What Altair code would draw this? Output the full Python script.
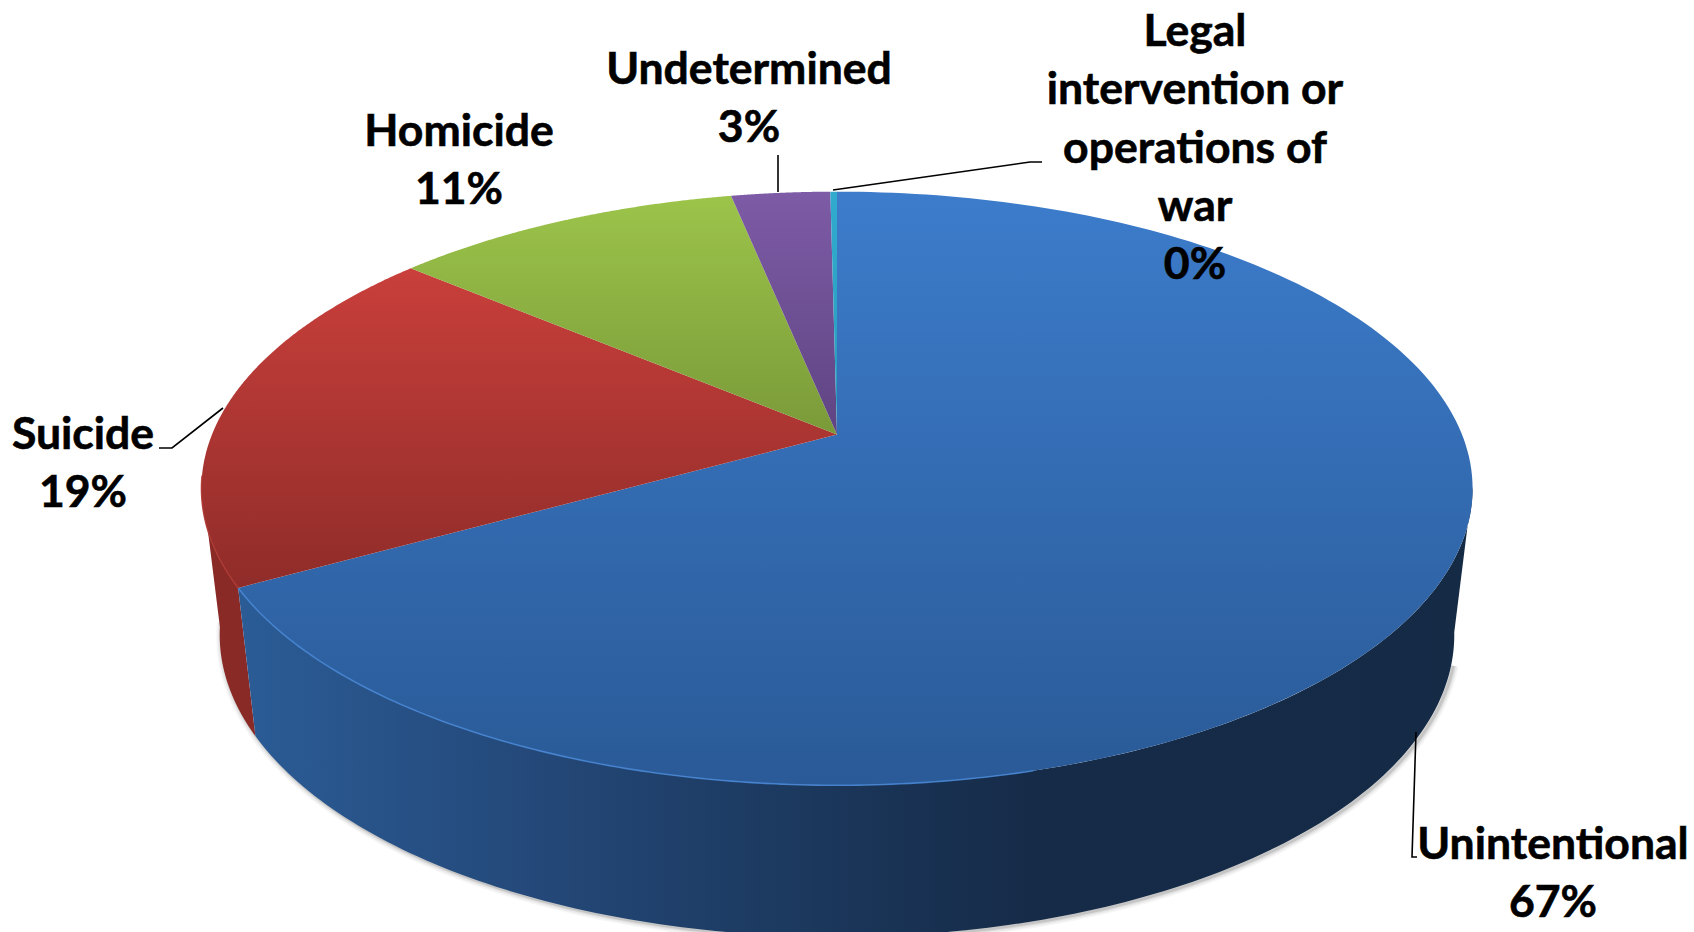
import numpy as np
import altair as alt

# Shares of injury deaths by intent, percent
categories = ["Unintentional", "Suicide", "Homicide", "Undetermined",
              "Legal\nintervention or\noperations of\nwar"]
shares = [66.9, 19.3, 10.6, 3.0, 0.2]

W, H = 1694, 932
FONT = "Lato"
APEX_X, APEX_Y = 837.0, 434.5


def project(theta, a, b, k, cx, cy):
    """Tilted-disc perspective: theta runs clockwise from twelve o'clock."""
    u, v = np.sin(theta), np.cos(theta)
    d = 1 + k * v
    return cx + a * u / d, cy - b * v / d


def top_rim(theta):
    return project(theta, 625.0, 287.0, 0.1818, APEX_X, APEX_Y)


def bottom_rim(theta):
    return project(theta, 607.0, 292.0, 0.1818, APEX_X, 580.0)


xs = alt.X("x:Q", scale=alt.Scale(domain=[0, W], nice=False, zero=False), axis=None)
ys = alt.Y("y:Q", scale=alt.Scale(domain=[H, 0], nice=False, zero=False), axis=None)


def rows(px, py):
    return alt.Data(values=[{"x": float(a), "y": float(b), "i": i}
                            for i, (a, b) in enumerate(zip(px, py))])


def gradient(stops, vertical=True):
    spec = dict(x1=0, x2=0, y1=0, y2=1) if vertical else dict(x1=0, x2=1, y1=0, y2=0)
    return alt.Gradient(gradient="linear",
                        stops=[alt.GradientStop(color=c, offset=o) for o, c in stops],
                        **spec)


def polygon(px, py, fill):
    return alt.Chart(rows(px, py)).mark_line(
        fill=fill, strokeWidth=0, interpolate="linear"
    ).encode(x=xs, y=ys, order="i:Q")


def path(px, py, color, width, opacity=1.0):
    return alt.Chart(rows(px, py)).mark_line(
        color=color, strokeWidth=width, opacity=opacity, interpolate="linear"
    ).encode(x=xs, y=ys, order="i:Q")


edges = np.radians(np.concatenate([[0], np.cumsum(shares)]) * 3.6)

layers = []

# Soft shadow just outside the lower rim
sweep = np.linspace(np.radians(106), np.radians(262), 240)
sx, sy = bottom_rim(sweep)
for width, opacity in [(11, 0.05), (8, 0.07), (5, 0.10), (3, 0.16)]:
    layers.append(path(sx + 2, sy + 1, "#555555", width, opacity))


def wall(t0, t1, fill):
    th = np.linspace(t0, t1, 160)
    ax, ay = top_rim(th)
    bx, by = bottom_rim(th[::-1])
    return polygon(np.r_[ax, bx], np.r_[ay, by], fill)


# Outer walls of the two front slices
layers.append(wall(edges[1], np.radians(261), "#8a2a26"))
layers.append(wall(np.radians(100), edges[1], gradient([
    (0.0, "#2b5c96"), (0.23, "#24497a"), (0.50, "#1a3558"),
    (0.64, "#162b48"), (1.0, "#152a45")], vertical=False)))

# Top faces of the slices, shaded from far rim to near rim
top_stops = [
    [(0.0, "#3c7ccb"), (1.0, "#2a5a97")],
    [(0.0, "#c93f3b"), (1.0, "#8f2c29")],
    [(0.0, "#9cc44a"), (1.0, "#7a9a39")],
    [(0.0, "#7d5ba6"), (1.0, "#5f4482")],
    [(0.0, "#30abce"), (1.0, "#2a9cbc")],
]
for i, stops in enumerate(top_stops):
    th = np.linspace(edges[i], edges[i + 1], 200)
    ax, ay = top_rim(th)
    layers.append(polygon(np.r_[APEX_X, ax, APEX_X], np.r_[APEX_Y, ay, APEX_Y],
                          gradient(stops)))

# Lit edge where the top face meets the wall
th = np.linspace(np.radians(165), edges[1], 120)
hx, hy = top_rim(th)
layers.append(path(hx, hy, "#4684d0", 1.6, 0.9))
th = np.linspace(edges[1], np.radians(262), 40)
hx, hy = top_rim(th)
layers.append(path(hx, hy, "#b03a35", 1.4, 0.9))

# Leader lines from the labels to the slices
leaders = [
    ([1416, 1412, 1417], [732, 857, 857]),
    ([159, 172, 223], [448, 448, 408]),
    ([778, 778], [155, 192]),
    ([833, 1030, 1042], [190, 162, 162]),
]
for lx, ly in leaders:
    layers.append(path(lx, ly, "#000000", 1.6))

# Name and rounded percentage for every slice
centres = [(1553, 846), (83, 436), (459, 133), (749, 71), (1195, 33)]
labels = [{"x": px, "y": py, "t": f"{name}\n{share:.0f}%"}
          for name, share, (px, py) in zip(categories, shares, centres)]
layers.append(
    alt.Chart(alt.Data(values=labels)).mark_text(
        font=FONT, fontWeight="bold", fontSize=44.5, color="#000000",
        stroke="#000000", strokeWidth=0.6,
        align="center", baseline="middle", lineBreak="\n", lineHeight=58.3,
    ).encode(x=xs, y=ys, text="t:N")
)

chart = alt.layer(*layers).properties(
    width=W, height=H, padding=0, background="#ffffff",
    autosize=alt.AutoSizeParams(type="none"),
).configure_view(stroke=None)

chart.save("out.html", embed_options={"renderer": "svg", "actions": False})
